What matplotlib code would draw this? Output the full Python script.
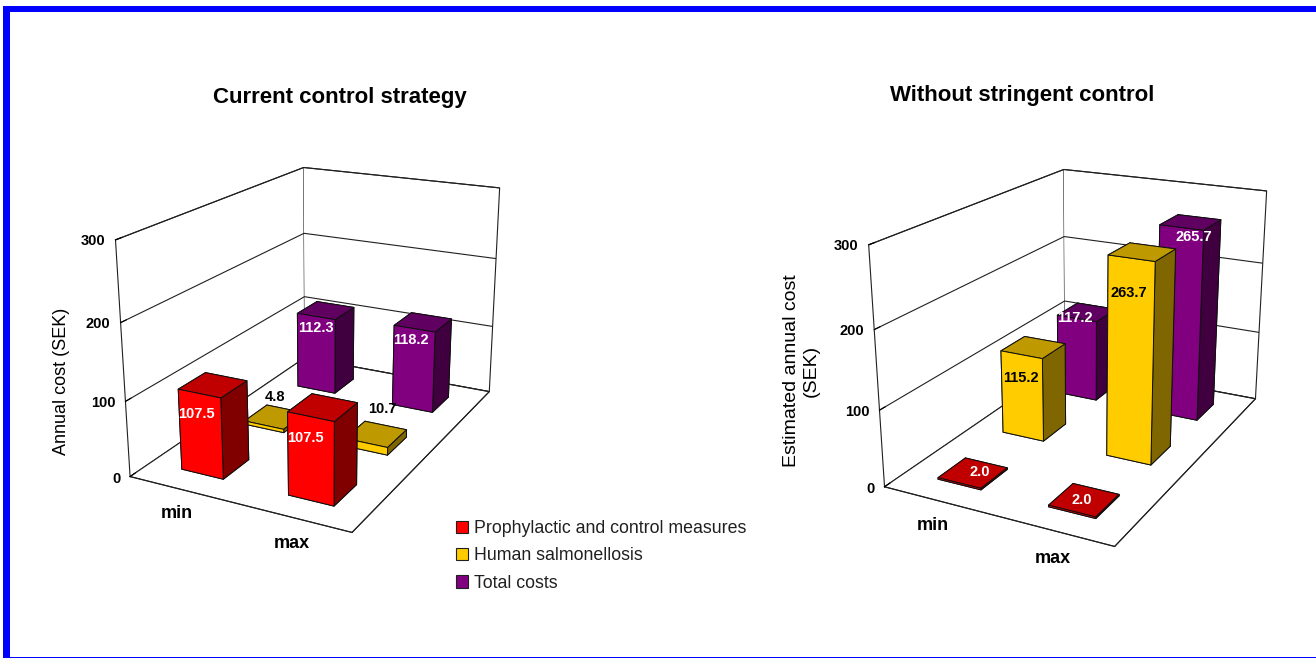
import matplotlib
matplotlib.use("Agg")
import matplotlib.pyplot as plt
from matplotlib.patches import Patch, Rectangle
from matplotlib.transforms import offset_copy
from mpl_toolkits.mplot3d import proj3d

plt.rcParams['font.family'] = ['Liberation Sans', 'DejaVu Sans']

categories = ['min', 'max']
series_names = ['Prophylactic and control measures', 'Human salmonellosis', 'Total costs']
z_ticks = [0, 100, 200, 300]
current_prophylactic = [107.5, 107.5]
current_human = [4.8, 10.7]
current_total = [112.3, 118.2]
without_prophylactic = [2.0, 2.0]
without_human = [115.2, 263.7]
without_total = [117.2, 265.7]

W, H = 1316, 658
EDGE = '#202020'
PALETTE = [dict(face='#FF0000', top='#C00000', side='#800000'),
           dict(face='#FFCC00', top='#BF9900', side='#806600'),
           dict(face='#800080', top='#600060', side='#400040')]
TEXT_COLORS = ['white', 'black', 'white']

fig = plt.figure(figsize=(W/100, H/100), dpi=100)


def draw_chart(pos, view, aspect, values, offsets):
    l, b, w = pos
    ax = fig.add_axes([l/W, b/H, w/W, w/H], projection='3d')
    ax.set_xlim(0, 1, view_margin=0)
    ax.set_ylim(0, 1, view_margin=0)
    ax.set_zlim(0, 300, view_margin=0)
    ax.view_init(view[0], view[1])
    ax.set_proj_type('persp', focal_length=view[2])
    ax.set_box_aspect(aspect)
    ax.patch.set_alpha(0)
    for a in (ax.xaxis, ax.yaxis, ax.zaxis):
        a.set_pane_color((1, 1, 1, 1))
        a.pane.set_edgecolor(EDGE)
        a.pane.set_linewidth(0.8)
        a.line.set_color(EDGE)
        a.line.set_linewidth(0.8)
    ax.set_xticks([])
    ax.set_yticks([])
    ax.set_zticks(z_ticks)
    ax.zaxis._axinfo['grid'].update(color=EDGE, linewidth=0.8, linestyle='-')
    ax.zaxis._axinfo['tick'].update(inward_factor=0, outward_factor=0.3,
                                    linewidth={True: 0.8, False: 0.5})
    ax.zaxis.set_ticks_position('lower')
    ax.tick_params(axis='z', labelsize=10.5, pad=-4)
    for t in ax.zaxis.get_major_ticks():
        t.label1.set_fontweight('bold')
        t.label1.set_va('center')
        t.label1.set_ha('right')
    ax.computed_zorder = False

    M = ax.get_proj()

    def project(x, y, z):
        u, v, _ = proj3d.proj_transform(x, y, z, M)
        return float(u), float(v)

    bw, bd = 0.2, 0.4/3
    zo = 5
    for s in (2, 1, 0):
        for c in (0, 1):
            v = values[s][c]
            xc, yc = 0.25 + 0.5*c, (s + 0.5)/3
            p = PALETTE[s]
            cols = [p['side'], p['top'], p['face'], p['side'], p['side'], p['side']]
            ax.bar3d(xc - bw/2, yc - bd/2, 0, bw, bd, v, color=cols, shade=False,
                     edgecolor='#101010', linewidth=0.7, zorder=zo)
            zo += 1
    for s in (2, 1, 0):
        for c in (0, 1):
            xc, yc = 0.25 + 0.5*c, (s + 0.5)/3
            dx, dy = offsets[s][c]
            u, v = project(xc, yc, values[s][c])
            ax.text2D(u, v, f"{values[s][c]:.1f}", ha='center', va='center',
                      fontsize=10.5, fontweight='bold', color=TEXT_COLORS[s], zorder=50,
                      transform=offset_copy(ax.transData, fig, x=dx, y=dy, units='dots'))
    for c, name in enumerate(categories):
        u, v = project(0.25 + 0.5*c + 0.093, -0.114, 0)
        ax.text2D(u, v, name, ha='center', va='center', fontsize=13, fontweight='bold',
                  color='black', zorder=50, transform=ax.transData)
    return ax


draw_chart((83.7, 92.5, 468.9), (19.303, -63.003, 0.4573), (1.0073, 1.5259, 1),
           [current_prophylactic, current_human, current_total],
           [[(-16, -29), (-17, -31)], [(0, 20), (6, 25)], [(-10, -18), (-12, -18)]])
draw_chart((837.9, 79.2, 482.3), (19.673, -62.880, 0.4425), (1.0207, 1.5316, 1),
           [without_prophylactic, without_human, without_total],
           [[(7, 1), (-2, 0)], [(-12, -31), (-13, -41)], [(-12, -6), (3, -15)]])

fig.text(340/W, 1 - 97/H, 'Current control strategy', ha='center', va='center',
         fontsize=16, fontweight='bold')
fig.text(1022/W, 1 - 95/H, 'Without stringent control', ha='center', va='center',
         fontsize=16, fontweight='bold')
fig.text(61/W, 1 - 381/H, 'Annual cost (SEK)', rotation=90, ha='center', va='center', fontsize=13)
fig.text(801/W, 1 - 371/H, 'Estimated annual cost\n(SEK)', rotation=90, ha='center', va='center',
         multialignment='center', fontsize=14)

handles = [Patch(facecolor=p['face'], edgecolor='#202020', linewidth=0.8) for p in PALETTE]
fig.legend(handles, series_names, loc='upper left', bbox_to_anchor=(456/W, 1 - 520/H),
           frameon=False, fontsize=12.8, handlelength=0.7, handleheight=0.7,
           handletextpad=0.3, labelspacing=0.58, borderpad=0, borderaxespad=0,
           labelcolor='#202020')

for x, y, w, h in ((3, 6, 7, 652), (3, 6, 1313, 6), (3, 656.5, 1313, 1.5)):
    fig.add_artist(Rectangle((x/W, 1 - (y + h)/H), w/W, h/H, transform=fig.transFigure,
                             facecolor='#0000FF', edgecolor='none', zorder=100))

fig.savefig('out.png', dpi=100)
